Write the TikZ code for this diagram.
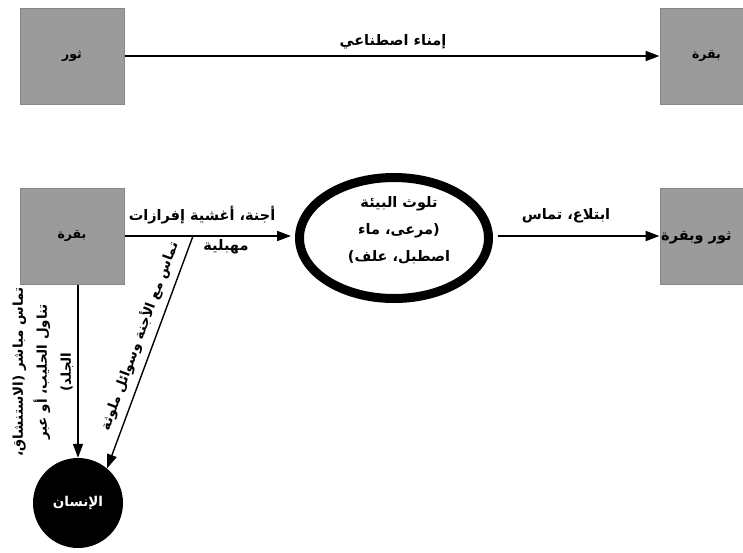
\documentclass[tikz,border=0pt]{standalone}
\usepackage{fontspec}
\usetikzlibrary{shapes.geometric,arrows.meta}
\TeXXeTstate=1
\newfontfamily\arabicfont[Script=Arabic]{DejaVu Sans}
\definecolor{boxgray}{RGB}{155,155,155}
\definecolor{boxedge}{RGB}{135,135,135}
\tikzset{
  animal/.style={rectangle, fill=boxgray, draw=boxedge, line width=1pt, minimum width=104pt, minimum height=96pt, inner sep=0pt, font=\arabicfont\bfseries\fontsize{12.5}{14}\selectfont},
  envnode/.style={ellipse, draw=black, line width=9pt, fill=white, minimum width=189pt, minimum height=121pt, inner sep=0pt},
  human/.style={circle, fill=black, text=white, minimum size=90pt, inner sep=0pt, font=\arabicfont\bfseries\fontsize{13.5}{15}\selectfont},
  lbl/.style={inner sep=0pt, align=center, font=\arabicfont\bfseries\fontsize{14.5}{17}\selectfont},
  envlbl/.style={inner sep=0pt, align=center, font=\arabicfont\bfseries\fontsize{14.5}{27}\selectfont},
  sidelbl/.style={inner sep=0pt, align=center, font=\arabicfont\bfseries\fontsize{13.5}{24}\selectfont},
  thickarrow/.style={line width=2pt, -{Triangle[length=14pt,width=10pt]}},
  thinarrow/.style={line width=1.4pt, -{Triangle[length=14pt,width=10pt]}}
}
\begin{document}
\begin{tikzpicture}[x=1pt,y=-1pt]
\useasboundingbox (0,0) rectangle (743,552);
% top row
\node[animal] (bull) at (72,56) {\beginR ثور\endR};
\node[animal, minimum width=92pt, text width=80pt, align=left] (cow1) at (706,56) {\hspace*{26pt}\beginR بقرة\endR};
\draw[thickarrow] (bull.east) -- (cow1.west);
\node[lbl] (ai) at (393,42) {\beginR إمناء اصطناعي\endR};
% second row
\node[animal] (cow2) at (72,236) {\beginR بقرة\endR};
\node[envnode] (env) at (394,238) {};
\node[envlbl] (envtxt) at (399,230) {\beginR تلوث البيئة\endR\\ \beginR (مرعى، ماء\endR\\ \beginR اصطبل، علف)\endR};
\node[animal, minimum width=92pt] (both) at (706,236) {};
\node[lbl, anchor=west] (bothtxt) at (661,238) {\beginR ثور وبقرة\endR};
\node[human] (man) at (78,503) {\beginR الإنسان\endR};
\coordinate (jn) at (193,236);
\draw[thickarrow, shorten >=4pt] (cow2.east) -- (cow2.east -| env.west);
\draw[thickarrow] (env.east |- cow2.east) ++(4.5,0) -- (both.west |- cow2.east);
\draw[thinarrow] (cow2.south -| man.north) -- (man.north);
\draw[thinarrow] (jn) -- (man.50);
% labels
\node[lbl] (l1) at (202,215) {\beginR أجنة، أغشية إفرازات\endR};
\node[lbl] (l2) at (226,247) {\beginR مهبلية\endR};
\node[lbl] (l3) at (566,216) {\beginR ابتلاع، تماس\endR};
\node[sidelbl, rotate=90] (l4) at (43,372) {\beginR تماس مباشر (الاستنشاق،\endR\\ \beginR تناول الحليب، أو عبر\endR\\ \beginR الجلد)\endR};
\node[sidelbl, rotate=69.7] (l5) at (139,336) {\beginR تماس مع الأجنة وسوائل ملوثة\endR};
\end{tikzpicture}
\end{document}
